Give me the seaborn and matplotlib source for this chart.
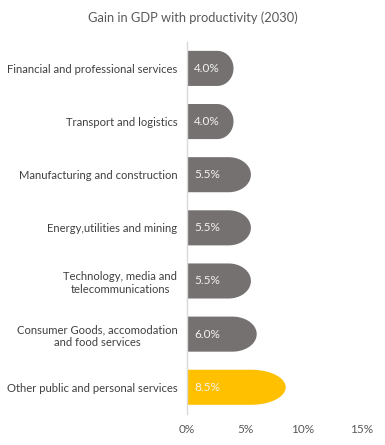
import numpy as np
import pandas as pd
import seaborn as sns
import matplotlib.pyplot as plt
from matplotlib.path import Path
from matplotlib.patches import PathPatch

# Data
sectors = [
    "Financial and professional services",
    "Transport and logistics",
    "Manufacturing and construction",
    "Energy,utilities and mining",
    "Technology, media and\ntelecommunications",
    "Consumer Goods, accomodation\nand food services",
    "Other public and personal services",
]
gain_pct = [4.0, 4.0, 5.5, 5.5, 5.5, 6.0, 8.5]
bar_colors = ["#767171"] * 6 + ["#FFC000"]
x_ticks = [0, 5, 10, 15]

df = pd.DataFrame({"sector": sectors, "gain": gain_pct})

sns.set_style("white")
plt.rcParams["font.family"] = ["Lato", "DejaVu Sans"]

fig = plt.figure(figsize=(3.85, 4.45), dpi=100)
ax = fig.add_axes([0.486, 0.070, 0.452, 0.836])

sns.barplot(data=df, x="gain", y="sector", hue="sector", palette=bar_colors,
            legend=False, width=0.66, orient="h", ax=ax, saturation=1)

# Replace the rectangles with bars that have a rounded (half-ellipse) end
for p in list(ax.patches):
    x0, y0 = p.get_x(), p.get_y()
    w, h = p.get_width(), p.get_height()
    rx = 0.35 * w
    t = np.linspace(-np.pi / 2, np.pi / 2, 40)
    arc_x = (x0 + w - rx) + rx * np.cos(t)
    arc_y = (y0 + h / 2) + (h / 2) * np.sin(t)
    verts = [(x0, y0)] + list(zip(arc_x, arc_y)) + [(x0, y0 + h), (x0, y0)]
    codes = [Path.MOVETO] + [Path.LINETO] * (len(verts) - 2) + [Path.CLOSEPOLY]
    ax.add_patch(PathPatch(Path(verts, codes), facecolor=p.get_facecolor(),
                           edgecolor="none", zorder=2))
    p.remove()

for i, v in enumerate(gain_pct):
    ax.annotate(f"{v:.1f}%", xy=(0, i), xytext=(5, 0), textcoords="offset points",
                ha="left", va="center", color="#F2F2F2", fontsize=8.5)

ax.set_xlim(0, 15)
ax.set_ylim(len(sectors) - 0.5, -0.5)
ax.set_xticks(x_ticks)
ax.set_xticklabels([f"{t}%" for t in x_ticks])
ax.set_xlabel("")
ax.set_ylabel("")
for s in ["top", "right", "bottom"]:
    ax.spines[s].set_visible(False)
ax.spines["left"].set_color("#D9D9D9")
ax.spines["left"].set_linewidth(1.0)
ax.tick_params(axis="x", length=0, labelsize=8.5, colors="#595959", pad=7)
ax.tick_params(axis="y", length=0, labelsize=8.1, pad=7, labelcolor="#404040")
for lbl in ax.get_yticklabels():
    lbl.set_multialignment("center")

fig.suptitle("Gain in GDP with productivity (2030)", x=0.5, y=0.975,
             fontsize=9.3, color="#595959")

fig.savefig("out.png", dpi=100)
